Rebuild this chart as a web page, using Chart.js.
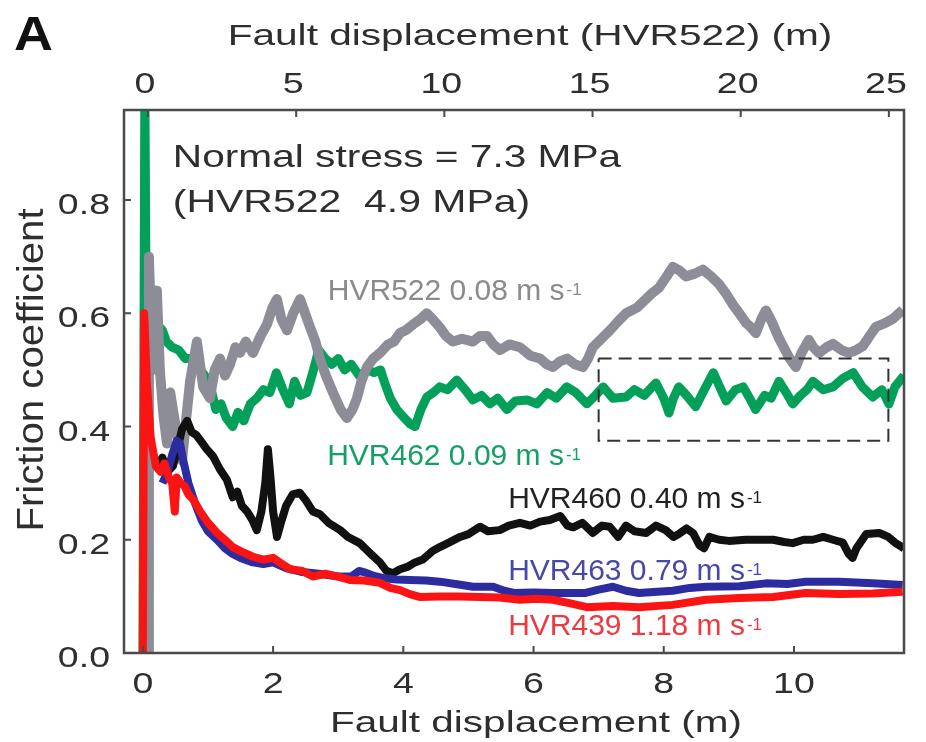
<!DOCTYPE html>
<html><head><meta charset="utf-8">
<script src="https://cdn.jsdelivr.net/npm/chart.js@4.4.1/dist/chart.umd.min.js"></script>
<style>html,body{margin:0;padding:0;background:#fff}#wrap{width:926px;height:742px;position:relative}</style>
</head><body><div id="wrap"><canvas id="c"></canvas></div>
<script>
// ---- tick labels ----
const bottomTicks = [0, 2, 4, 6, 8, 10];
const topTicks = [0, 5, 10, 15, 20, 25];
const yTicks = [0.0, 0.2, 0.4, 0.6, 0.8];

// ---- series: [fault displacement (m), friction coefficient] ----
// HVR522 is plotted against the top axis (its own displacement)
const HVR522 = [[0,0],[0.03,0.70],[0.08,0.62],[0.15,0.50],[0.3,0.64],[0.4,0.50],[0.52,0.42],[0.64,0.37],[0.75,0.46],[0.84,0.43],[1.0,0.38],[1.15,0.34],[1.3,0.42],[1.42,0.48],[1.55,0.52],[1.65,0.55],[1.86,0.47],[2.09,0.45],[2.25,0.50],[2.43,0.52],[2.6,0.49],[2.77,0.51],[2.95,0.54],[3.10,0.53],[3.3,0.55],[3.54,0.53],[3.8,0.56],[4.01,0.58],[4.2,0.61],[4.35,0.625],[4.5,0.59],[4.69,0.57],[4.9,0.60],[5.13,0.625],[5.3,0.60],[5.47,0.575],[5.65,0.55],[5.80,0.52],[6.0,0.49],[6.24,0.46],[6.5,0.43],[6.71,0.415],[6.9,0.43],[7.05,0.45],[7.2,0.48],[7.39,0.505],[7.6,0.52],[7.83,0.53],[8.1,0.545],[8.3,0.55],[8.50,0.565],[8.7,0.57],[8.94,0.58],[9.2,0.59],[9.41,0.60],[9.6,0.59],[9.85,0.575],[10.05,0.56],[10.29,0.55],[10.6,0.555],[10.96,0.55],[11.2,0.56],[11.44,0.56],[11.65,0.545],[11.88,0.535],[12.2,0.545],[12.55,0.54],[12.9,0.525],[13.23,0.52],[13.45,0.51],[13.66,0.505],[13.9,0.515],[14.14,0.52],[14.4,0.51],[14.68,0.505],[14.85,0.52],[15.01,0.54],[15.3,0.555],[15.59,0.57],[15.85,0.585],[16.13,0.60],[16.5,0.61],[16.80,0.625],[17.0,0.635],[17.24,0.645],[17.5,0.665],[17.71,0.682],[17.95,0.675],[18.15,0.665],[18.45,0.67],[18.72,0.677],[19.0,0.665],[19.26,0.652],[19.5,0.635],[19.74,0.615],[19.95,0.60],[20.18,0.583],[20.35,0.575],[20.51,0.565],[20.7,0.59],[20.85,0.605],[21.05,0.585],[21.29,0.556],[21.45,0.54],[21.63,0.522],[21.86,0.505],[22.05,0.53],[22.30,0.553],[22.45,0.54],[22.64,0.53],[22.9,0.54],[23.11,0.546],[23.4,0.535],[23.65,0.53],[23.9,0.535],[24.12,0.542],[24.35,0.56],[24.56,0.576],[24.85,0.582],[25.13,0.59],[25.47,0.606]];

const HVR462 = [[0,0],[0.03,1.0],[0.05,0.62],[0.1,0.60],[0.15,0.62],[0.22,0.58],[0.3,0.57],[0.36,0.55],[0.45,0.54],[0.55,0.535],[0.65,0.52],[0.75,0.52],[0.85,0.505],[0.95,0.49],[1.05,0.465],[1.12,0.43],[1.2,0.44],[1.28,0.415],[1.38,0.40],[1.46,0.425],[1.55,0.41],[1.65,0.44],[1.75,0.45],[1.85,0.465],[1.95,0.46],[2.05,0.495],[2.15,0.465],[2.25,0.44],[2.33,0.48],[2.42,0.455],[2.52,0.46],[2.62,0.50],[2.7,0.535],[2.8,0.52],[2.9,0.51],[3.0,0.52],[3.1,0.50],[3.2,0.51],[3.32,0.49],[3.45,0.50],[3.55,0.495],[3.65,0.50],[3.72,0.475],[3.8,0.45],[3.9,0.43],[4.0,0.417],[4.1,0.405],[4.18,0.40],[4.27,0.43],[4.36,0.452],[4.46,0.46],[4.56,0.47],[4.68,0.465],[4.82,0.482],[4.95,0.465],[5.07,0.447],[5.2,0.455],[5.33,0.44],[5.45,0.45],[5.59,0.43],[5.72,0.445],[5.9,0.447],[6.05,0.44],[6.21,0.46],[6.35,0.45],[6.51,0.47],[6.65,0.46],[6.82,0.44],[6.95,0.455],[7.07,0.47],[7.22,0.45],[7.42,0.452],[7.55,0.465],[7.7,0.455],[7.88,0.477],[8.0,0.45],[8.08,0.424],[8.15,0.45],[8.23,0.47],[8.35,0.455],[8.49,0.435],[8.6,0.46],[8.76,0.495],[8.86,0.47],[8.96,0.445],[9.1,0.465],[9.22,0.47],[9.32,0.45],[9.41,0.43],[9.55,0.455],[9.65,0.45],[9.77,0.48],[9.88,0.46],[9.98,0.44],[10.1,0.455],[10.2,0.465],[10.29,0.48],[10.45,0.465],[10.6,0.47],[10.75,0.485],[10.91,0.495],[11.05,0.47],[11.21,0.452],[11.35,0.465],[11.46,0.44],[11.55,0.47],[11.69,0.49]];

const HVR460 = [[0.22,0.33],[0.3,0.345],[0.38,0.32],[0.46,0.33],[0.53,0.36],[0.6,0.395],[0.68,0.41],[0.75,0.39],[0.82,0.385],[0.88,0.376],[0.98,0.36],[1.08,0.347],[1.18,0.325],[1.29,0.306],[1.38,0.275],[1.45,0.285],[1.52,0.26],[1.6,0.25],[1.68,0.235],[1.75,0.217],[1.82,0.25],[1.88,0.30],[1.92,0.36],[1.96,0.31],[2.0,0.25],[2.06,0.205],[2.12,0.23],[2.2,0.26],[2.3,0.28],[2.41,0.283],[2.5,0.27],[2.61,0.25],[2.72,0.245],[2.85,0.23],[3.03,0.217],[3.15,0.205],[3.33,0.194],[3.5,0.175],[3.64,0.16],[3.74,0.145],[3.84,0.141],[3.95,0.148],[4.06,0.152],[4.18,0.16],[4.30,0.165],[4.45,0.18],[4.56,0.187],[4.7,0.195],[4.87,0.205],[5.0,0.21],[5.18,0.223],[5.3,0.215],[5.48,0.217],[5.62,0.225],[5.79,0.23],[5.95,0.225],[6.10,0.232],[6.25,0.235],[6.41,0.242],[6.52,0.225],[6.61,0.222],[6.75,0.23],[6.91,0.212],[7.05,0.225],[7.17,0.223],[7.3,0.205],[7.42,0.225],[7.55,0.215],[7.73,0.212],[7.88,0.225],[8.03,0.217],[8.15,0.205],[8.23,0.21],[8.35,0.22],[8.45,0.212],[8.55,0.19],[8.62,0.185],[8.7,0.205],[8.85,0.2],[9.0,0.198],[9.26,0.2],[9.45,0.2],[9.68,0.2],[9.85,0.196],[9.98,0.194],[10.15,0.2],[10.29,0.2],[10.45,0.205],[10.60,0.2],[10.75,0.195],[10.84,0.175],[10.9,0.168],[10.96,0.185],[11.11,0.21],[11.31,0.212],[11.45,0.205],[11.55,0.195],[11.69,0.185]];

const HVR463 = [[0.3,0.30],[0.38,0.32],[0.45,0.35],[0.52,0.375],[0.57,0.37],[0.62,0.34],[0.7,0.30],[0.8,0.265],[0.9,0.235],[1.0,0.215],[1.14,0.2],[1.26,0.185],[1.38,0.175],[1.5,0.168],[1.69,0.16],[1.85,0.157],[2.0,0.16],[2.2,0.15],[2.45,0.143],[2.7,0.14],[3.0,0.135],[3.2,0.135],[3.32,0.145],[3.42,0.142],[3.55,0.136],[3.7,0.132],[3.9,0.13],[4.1,0.129],[4.35,0.128],[4.56,0.126],[4.8,0.122],[5.07,0.117],[5.38,0.117],[5.55,0.11],[5.7,0.106],[6.0,0.107],[6.3,0.106],[6.8,0.106],[7.0,0.112],[7.22,0.117],[7.42,0.11],[7.62,0.106],[7.9,0.108],[8.14,0.11],[8.4,0.115],[8.65,0.117],[9.16,0.118],[9.57,0.123],[9.9,0.122],[10.18,0.126],[10.69,0.126],[11.21,0.123],[11.67,0.12]];

const HVR439 = [[0,0],[0.02,0.60],[0.06,0.48],[0.12,0.38],[0.2,0.33],[0.27,0.32],[0.33,0.335],[0.4,0.31],[0.45,0.30],[0.49,0.25],[0.52,0.31],[0.58,0.30],[0.64,0.295],[0.7,0.28],[0.78,0.27],[0.88,0.25],[1.0,0.23],[1.14,0.212],[1.26,0.2],[1.38,0.187],[1.5,0.18],[1.69,0.17],[1.85,0.165],[2.0,0.168],[2.1,0.16],[2.26,0.148],[2.45,0.145],[2.61,0.135],[2.8,0.14],[3.0,0.135],[3.18,0.129],[3.4,0.128],[3.64,0.124],[3.8,0.115],[3.95,0.111],[4.1,0.104],[4.25,0.099],[4.56,0.10],[4.87,0.10],[5.18,0.099],[5.48,0.098],[5.79,0.094],[6.05,0.096],[6.30,0.094],[6.55,0.088],[6.82,0.081],[7.22,0.083],[7.62,0.081],[8.14,0.085],[8.65,0.094],[9.16,0.097],[9.68,0.099],[10.18,0.106],[10.69,0.104],[11.21,0.105],[11.67,0.108]];

// dashed box around HVR462 steady state
const steadyBox = [[7.0,0.52],[11.45,0.52],[11.45,0.375],[7.0,0.375],[7.0,0.52]];

// ---- texts ----
const seriesLabels = ['HVR522 0.08 m s', 'HVR462 0.09 m s', 'HVR460 0.40 m s', 'HVR463 0.79 m s', 'HVR439 1.18 m s'];
const noteLines = ['Normal stress = 7.3 MPa', '(HVR522  4.9 MPa)'];

const FONT = '"Liberation Sans", Arial, Helvetica, sans-serif';
const pts = a => a.map(p => ({x: p[0], y: p[1]}));

function txt(ctx, s, x, y, size, color, align, sx, bold) {
  ctx.save();
  ctx.translate(x, y);
  ctx.scale(sx, 1);
  ctx.font = (bold ? 'bold ' : '') + size + 'px ' + FONT;
  ctx.fillStyle = color;
  ctx.textAlign = align;
  ctx.textBaseline = 'alphabetic';
  ctx.fillText(s, 0, 0);
  const w = ctx.measureText(s).width * sx;
  ctx.restore();
  return w;
}

const decor = {
  id: 'decor',
  afterDraw(chart) {
    const {ctx, chartArea: a} = chart;
    const X = chart.scales.x, X2 = chart.scales.x2, Y = chart.scales.y;
    ctx.save();
    // frame
    ctx.strokeStyle = '#4a4a4a';
    ctx.lineWidth = 2.5;
    ctx.strokeRect(a.left, a.top, a.right - a.left, a.bottom - a.top);
    // ticks (inward)
    ctx.lineWidth = 2;
    ctx.beginPath();
    bottomTicks.forEach(v => { const p = X.getPixelForValue(v); ctx.moveTo(p, a.bottom); ctx.lineTo(p, a.bottom - 7); });
    topTicks.forEach(v => { const p = X2.getPixelForValue(v); ctx.moveTo(p, a.top); ctx.lineTo(p, a.top + 7); });
    yTicks.forEach(v => { const p = Y.getPixelForValue(v); ctx.moveTo(a.left, p); ctx.lineTo(a.left + 7, p); });
    ctx.stroke();
    // tick labels
    bottomTicks.forEach(v => txt(ctx, String(v), X.getPixelForValue(v), a.bottom + 40, 30, '#2e2e2e', 'center', 1.25));
    topTicks.forEach(v => txt(ctx, String(v), X2.getPixelForValue(v) - 3, a.top - 17, 30, '#2e2e2e', 'center', 1.25));
    yTicks.forEach(v => txt(ctx, v.toFixed(1), a.left - 14, Y.getPixelForValue(v) + 14, 30, '#2e2e2e', 'right', 1.25));
    // axis titles
    txt(ctx, 'Fault displacement (m)', 536, 732, 30, '#2e2e2e', 'center', 1.35);
    txt(ctx, 'Fault displacement (HVR522) (m)', 530, 45, 29, '#2e2e2e', 'center', 1.40);
    ctx.save();
    ctx.translate(43, 370);
    ctx.rotate(-Math.PI / 2);
    ctx.scale(1.34, 1.25);
    ctx.font = '30px ' + FONT;
    ctx.fillStyle = '#2e2e2e';
    ctx.textAlign = 'center';
    ctx.textBaseline = 'alphabetic';
    ctx.fillText('Friction coefficient', 0, 0);
    ctx.restore();
    // panel letter
    txt(ctx, 'A', 14, 50, 49, '#111', 'left', 1.1, true);
    // normal stress note
    txt(ctx, noteLines[0], X.getPixelForValue(0.46), Y.getPixelForValue(0.859), 32, '#2e2e2e', 'left', 1.27);
    txt(ctx, noteLines[1], X.getPixelForValue(0.46), Y.getPixelForValue(0.779), 32, '#2e2e2e', 'left', 1.28);
    // series labels
    const lpos = [[2.84, 0.624], [2.83, 0.332], [5.61, 0.256], [5.61, 0.129], [5.61, 0.032]];
    const lcol = ['#8a8a8f', '#14a064', '#222222', '#4848a8', '#ec3a42'];
    seriesLabels.forEach((s, i) => {
      const px = X.getPixelForValue(lpos[i][0]), py = Y.getPixelForValue(lpos[i][1]);
      const w = txt(ctx, s, px, py, 30, lcol[i], 'left', 1.0);
      txt(ctx, '-1', px + w + 2, py - 5, 17, lcol[i], 'left', 1.0);
    });
    ctx.restore();
  }
};

const line = (data, color, width, axis) => ({
  data: pts(data), borderColor: color, borderWidth: width, xAxisID: axis || 'x', yAxisID: 'y',
  pointRadius: 0, fill: false, tension: 0, borderJoinStyle: 'round', clip: 0
});

const boxDs = line(steadyBox, '#333333', 2);
boxDs.borderDash = [13, 7];
boxDs.borderJoinStyle = 'miter';

new Chart(document.getElementById('c'), {
  type: 'line',
  data: {
    datasets: [
      boxDs,
      line(HVR439, '#fa1414', 8),
      line(HVR463, '#2c2ca0', 8),
      line(HVR460, '#111111', 8),
      line(HVR522, '#8d8d97', 10, 'x2'),
      line(HVR462, '#03a05a', 9)
    ]
  },
  options: {
    responsive: true, maintainAspectRatio: false, animation: false, devicePixelRatio: 1,
    events: [],
    layout: {padding: {left: 0, right: 22, top: 0, bottom: 0}},
    plugins: {legend: {display: false}, tooltip: {enabled: false}},
    scales: {
      x: {type: 'linear', position: 'bottom', min: -0.29, max: 11.69,
          ticks: {display: false}, grid: {display: false}, border: {display: false},
          afterFit(s) { s.height = 89; }},
      x2: {type: 'linear', position: 'top', min: -0.81, max: 25.51,
          ticks: {display: false}, grid: {display: false}, border: {display: false},
          afterFit(s) { s.height = 110; }},
      y: {type: 'linear', position: 'left', min: 0, max: 0.959,
          ticks: {display: false}, grid: {display: false}, border: {display: false},
          afterFit(s) { s.width = 124; }}
    }
  },
  plugins: [decor]
});
</script>
</body></html>
